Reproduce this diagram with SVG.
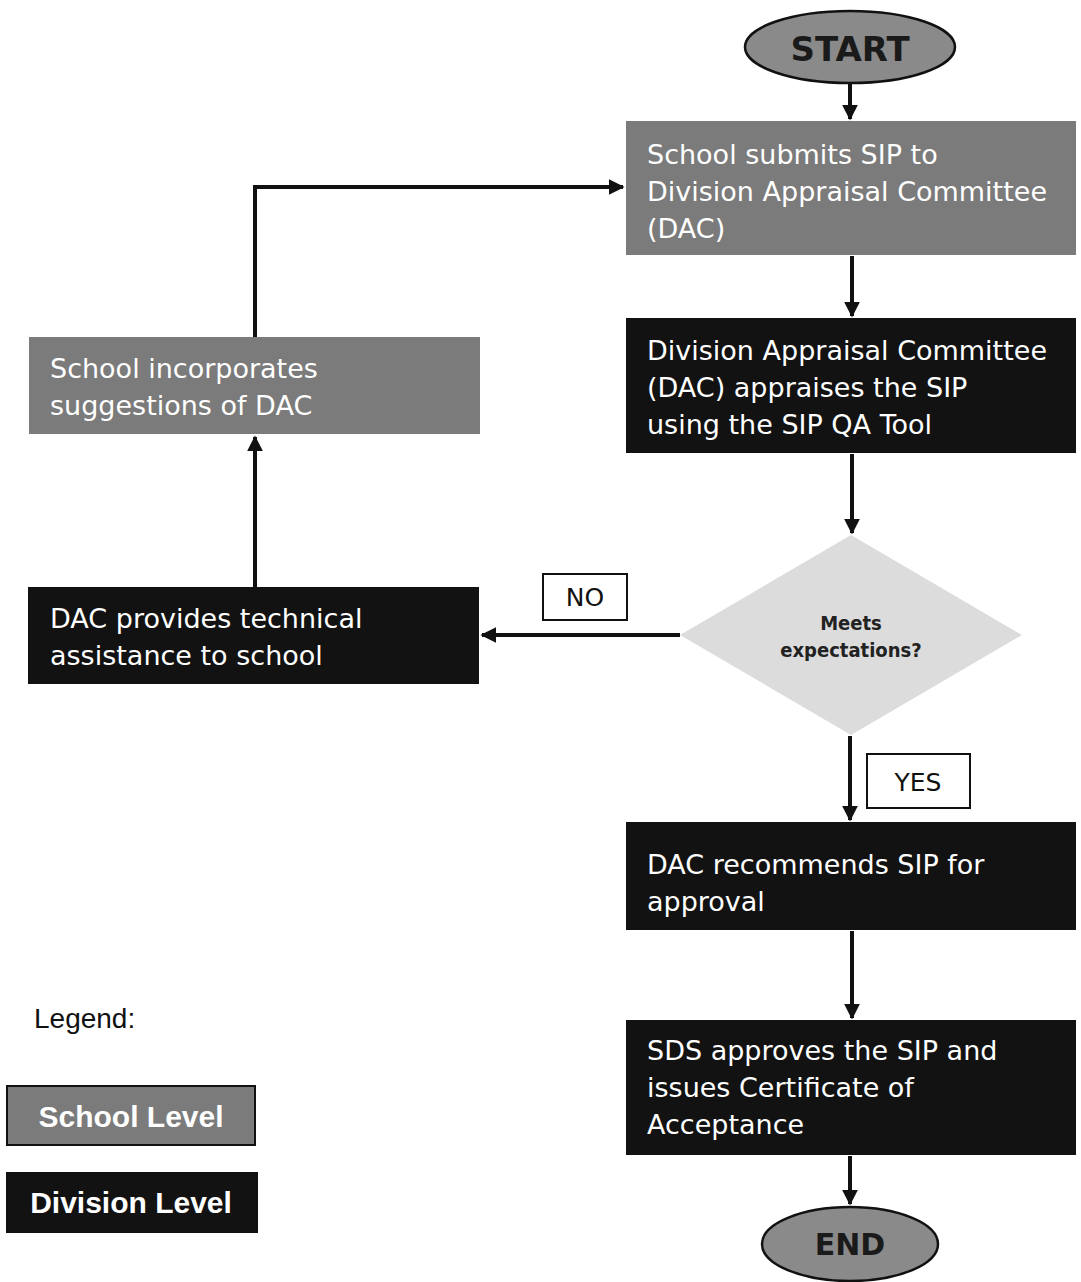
<svg xmlns="http://www.w3.org/2000/svg" width="1081" height="1282" viewBox="0 0 1081 1282">
<style>
.school{fill:#7b7b7b}
.division{fill:#121212}
.bt{font-family:"DejaVu Sans",Verdana,sans-serif;font-size:27px;fill:#fff}
.term{fill:#8a8a8a;stroke:#111;stroke-width:2.5}
.tt{font-family:"DejaVu Sans",Verdana,sans-serif;font-weight:bold;fill:#1a1a1a;text-anchor:middle}
.conn{stroke:#111;stroke-width:4;fill:none}
.lbl{fill:#fff;stroke:#111;stroke-width:2}
.lt{font-family:"DejaVu Sans",Verdana,sans-serif;font-size:25px;fill:#111;text-anchor:middle}
.leg{font-family:"Liberation Sans",Arial,sans-serif;font-size:30px;font-weight:bold;fill:#fff;text-anchor:middle}
.dt{font-family:"DejaVu Sans Condensed","DejaVu Sans",sans-serif;font-size:20px;font-weight:bold;fill:#222;text-anchor:middle}
</style>
<defs>
<marker id="ah" viewBox="0 0 10 10" refX="9" refY="5" markerWidth="4" markerHeight="4" orient="auto" markerUnits="strokeWidth">
<path d="M0,0 L10,5 L0,10 z" fill="#111"/>
</marker>
</defs>
<rect width="1081" height="1282" fill="#fff"/>
<g id="connectors">
<line class="conn" x1="850" y1="83" x2="850" y2="119" marker-end="url(#ah)"/>
<line class="conn" x1="852" y1="256" x2="852" y2="316" marker-end="url(#ah)"/>
<line class="conn" x1="852" y1="454" x2="852" y2="533" marker-end="url(#ah)"/>
<line class="conn" x1="680" y1="635" x2="482" y2="635" marker-end="url(#ah)"/>
<line class="conn" x1="255" y1="587" x2="255" y2="437" marker-end="url(#ah)"/>
<polyline class="conn" points="255,337 255,187 623,187" marker-end="url(#ah)"/>
<line class="conn" x1="850" y1="736" x2="850" y2="820" marker-end="url(#ah)"/>
<line class="conn" x1="852" y1="931" x2="852" y2="1018" marker-end="url(#ah)"/>
<line class="conn" x1="850" y1="1156" x2="850" y2="1204" marker-end="url(#ah)"/>
<g id="label-no"><rect class="lbl" x="543" y="574" width="84" height="46"/><text class="lt" x="585" y="606">NO</text></g>
<g id="label-yes"><rect class="lbl" x="867" y="754" width="103" height="54"/><text class="lt" x="918" y="791">YES</text></g>
</g>
<g id="start"><ellipse class="term" cx="850" cy="47" rx="105" ry="36"/><text class="tt" font-size="34" x="850" y="61">START</text></g>
<g id="submit"><rect class="school" x="626" y="121" width="450" height="134"/>
<text class="bt" x="647" y="164">School submits SIP to</text>
<text class="bt" x="647" y="201">Division Appraisal Committee</text>
<text class="bt" x="647" y="238">(DAC)</text></g>
<g id="appraise"><rect class="division" x="626" y="318" width="450" height="135"/>
<text class="bt" x="647" y="360">Division Appraisal Committee</text>
<text class="bt" x="647" y="397">(DAC) appraises the SIP</text>
<text class="bt" x="647" y="434">using the SIP QA Tool</text></g>
<g id="decision"><polygon points="851,535 1022,635 851,735 680,635" fill="#dcdcdc"/>
<text class="dt" x="851" y="630">Meets</text>
<text class="dt" x="851" y="657">expectations?</text></g>
<g id="assist"><rect class="division" x="28" y="587" width="451" height="97"/>
<text class="bt" x="50" y="628">DAC provides technical</text>
<text class="bt" x="50" y="665">assistance to school</text></g>
<g id="incorporate"><rect class="school" x="29" y="337" width="451" height="97"/>
<text class="bt" x="50" y="378">School incorporates</text>
<text class="bt" x="50" y="415">suggestions of DAC</text></g>
<g id="recommend"><rect class="division" x="626" y="822" width="450" height="108"/>
<text class="bt" x="647" y="874">DAC recommends SIP for</text>
<text class="bt" x="647" y="911">approval</text></g>
<g id="approve"><rect class="division" x="626" y="1020" width="450" height="135"/>
<text class="bt" x="647" y="1060">SDS approves the SIP and</text>
<text class="bt" x="647" y="1097">issues Certificate of</text>
<text class="bt" x="647" y="1134">Acceptance</text></g>
<g id="end"><ellipse class="term" cx="850" cy="1244" rx="88" ry="37"/><text class="tt" font-size="30" x="850" y="1255">END</text></g>
<g id="legend">
<text font-family="Liberation Sans,Arial,sans-serif" font-size="28" fill="#111" x="34" y="1028">Legend:</text>
<rect class="school" x="7" y="1086" width="248" height="59" stroke="#111" stroke-width="2"/>
<text class="leg" x="131" y="1127">School Level</text>
<rect class="division" x="7" y="1173" width="250" height="59" stroke="#111" stroke-width="2"/>
<text class="leg" x="131" y="1213">Division Level</text>
</g>
</svg>
